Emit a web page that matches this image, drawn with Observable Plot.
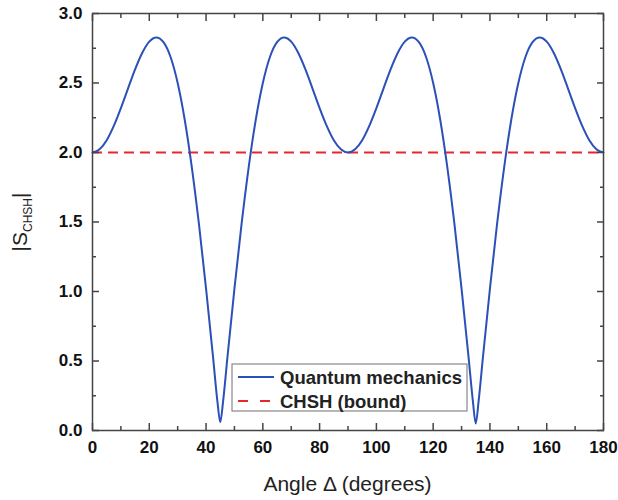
<!DOCTYPE html>
<html><head><meta charset="utf-8">
<script src="https://cdn.jsdelivr.net/npm/d3@7"></script>
<script src="https://cdn.jsdelivr.net/npm/@observablehq/plot@0.6"></script>
<style>body{margin:0;background:#fff}</style>
</head><body><div id="chart"></div>
<script>
// Angle Δ in degrees and |S_CHSH|
const angles = [0,2.5,5,7.5,10,12.5,15,17.5,20,22.5,25,27.5,30,32.5,35,37.5,40,42.5,44,45,46,47.5,50,52.5,55,57.5,60,62.5,65,67.5,70,72.5,75,77.5,80,82.5,85,87.5,
  90,92.5,95,97.5,100,102.5,105,107.5,110,112.5,115,117.5,120,122.5,125,127.5,130,132.5,134,135,136,137.5,140,142.5,145,147.5,150,152.5,155,157.5,160,162.5,165,167.5,170,172.5,175,177.5,180];
const sValues = [2.000,2.023,2.088,2.191,2.319,2.460,2.598,2.716,2.798,2.828,2.794,2.687,2.500,2.234,1.892,1.484,1.021,0.520,0.209,0.06,0.209,0.520,1.021,1.484,1.892,2.234,2.500,2.687,2.794,2.828,2.798,2.716,2.598,2.460,2.319,2.191,2.088,2.023,
  2.000,2.023,2.088,2.191,2.319,2.460,2.598,2.716,2.798,2.828,2.794,2.687,2.500,2.234,1.892,1.484,1.021,0.520,0.209,0.05,0.209,0.520,1.021,1.484,1.892,2.234,2.500,2.687,2.794,2.828,2.798,2.716,2.598,2.460,2.319,2.191,2.088,2.023,2.000];
const boundValue = 2;
const seriesNames = ["Quantum mechanics", "CHSH (bound)"];
const xMajorTicks = [0,20,40,60,80,100,120,140,160,180];
const xMinorTicks = [10,30,50,70,90,110,130,150,170];
const yMajorTicks = [0,0.5,1,1.5,2,2.5,3];
const yMinorTicks = [0.25,0.75,1.25,1.75,2.25,2.75];
const xLabel = "Angle \u0394 (degrees)";
const yLabelMain = "|S", yLabelSub = "CHSH", yLabelEnd = "|";

const blue = "#2b50b8", red = "#e8262e", axisColor = "#444";
const data = angles.map((a, i) => ({angle: a, s: sValues[i]}));
const none = () => "";

const svg = Plot.plot({
  width: 618, height: 500,
  marginLeft: 92, marginRight: 15, marginTop: 13, marginBottom: 70,
  style: {fontFamily: "'Liberation Sans', Arial, sans-serif", fontSize: "17px", background: "#fff", color: "#111"},
  x: {domain: [0, 180]},
  y: {domain: [0, 3]},
  marks: [
    Plot.ruleY([boundValue], {stroke: red, strokeWidth: 2, strokeDasharray: "10,6"}),
    Plot.line(data, {x: "angle", y: "s", stroke: blue, strokeWidth: 2, curve: "monotone-x"}),
    Plot.axisX(xMajorTicks, {anchor: "bottom", tickSize: -7, tickPadding: 17, fontWeight: "bold", label: null, stroke: axisColor, strokeWidth: 1.5}),
    Plot.axisX(xMinorTicks, {anchor: "bottom", tickSize: -4, tickFormat: none, label: null, stroke: axisColor, strokeWidth: 1.5}),
    Plot.axisX(xMajorTicks, {anchor: "top", tickSize: -7, tickFormat: none, label: null, stroke: axisColor, strokeWidth: 1.5}),
    Plot.axisX(xMinorTicks, {anchor: "top", tickSize: -4, tickFormat: none, label: null, stroke: axisColor, strokeWidth: 1.5}),
    Plot.axisY(yMajorTicks, {anchor: "left", tickSize: -7, tickPadding: 17, tickFormat: d3.format(".1f"), fontWeight: "bold", label: null, stroke: axisColor, strokeWidth: 1.5}),
    Plot.axisY(yMinorTicks, {anchor: "left", tickSize: -4, tickFormat: none, label: null, stroke: axisColor, strokeWidth: 1.5}),
    Plot.axisY(yMajorTicks, {anchor: "right", tickSize: -7, tickFormat: none, label: null, stroke: axisColor, strokeWidth: 1.5}),
    Plot.axisY(yMinorTicks, {anchor: "right", tickSize: -4, tickFormat: none, label: null, stroke: axisColor, strokeWidth: 1.5}),
    Plot.frame({stroke: axisColor, strokeWidth: 1.5})
  ]
});
document.getElementById("chart").appendChild(svg);

const s = d3.select(svg);
// x-axis title
s.append("text").attr("x", 347.5).attr("y", 491).attr("text-anchor", "middle")
  .attr("font-size", 21).attr("font-weight", "normal").attr("fill", "#222").text(xLabel);
// y-axis title with subscript
const yt = s.append("text").attr("transform", "translate(27,222) rotate(-90)")
  .attr("text-anchor", "middle").attr("font-size", 21).attr("fill", "#222");
yt.append("tspan").text(yLabelMain);
yt.append("tspan").attr("font-size", 12).attr("dy", 5).text(yLabelSub);
yt.append("tspan").attr("dy", -5).text(yLabelEnd);

// legend
const lg = s.append("g");
lg.append("rect").attr("x", 232).attr("y", 364).attr("width", 235).attr("height", 47)
  .attr("fill", "#fff").attr("stroke", "#888").attr("stroke-width", 1.2);
const rows = [{name: seriesNames[0], color: blue, dash: null, y: 377}, {name: seriesNames[1], color: red, dash: "10,12", y: 401}];
rows.forEach(r => {
  lg.append("line").attr("x1", 238).attr("x2", 274).attr("y1", r.y).attr("y2", r.y)
    .attr("stroke", r.color).attr("stroke-width", 2).attr("stroke-dasharray", r.dash);
  lg.append("text").attr("x", 280).attr("y", r.y).attr("dy", "0.36em").attr("text-anchor", "start")
    .attr("font-size", 18.5).attr("font-weight", "bold").attr("fill", "#222").text(r.name);
});
</script>
</body></html>
